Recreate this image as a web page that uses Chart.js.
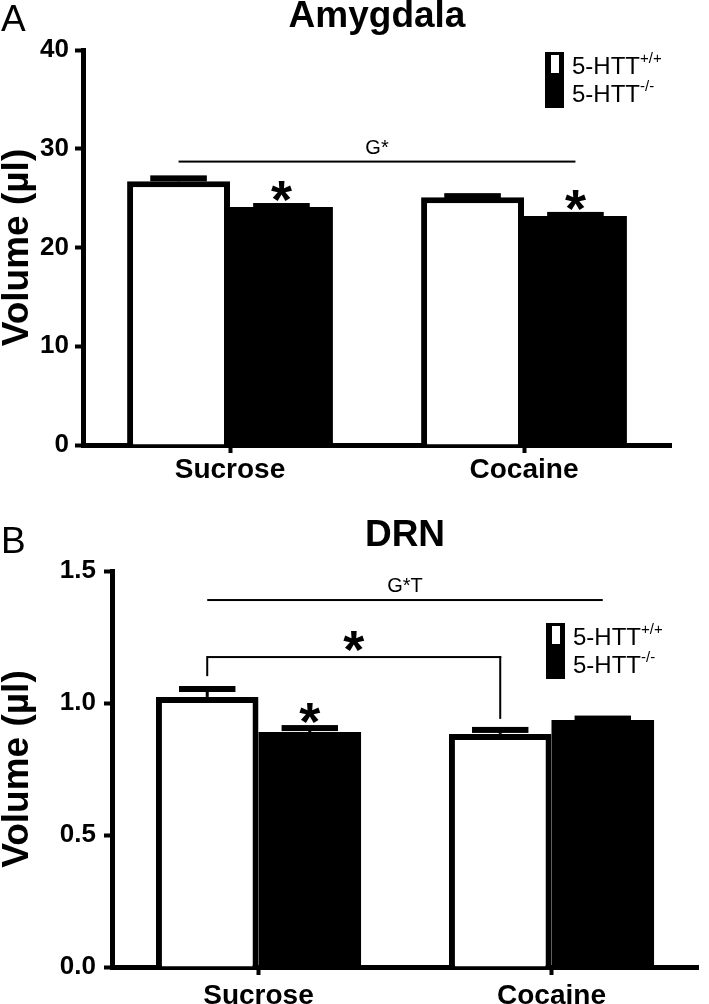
<!DOCTYPE html>
<html>
<head>
<meta charset="utf-8">
<script src="https://cdn.jsdelivr.net/npm/chart.js@4.4.1/dist/chart.umd.min.js"></script>
<style>
  body { margin: 0; background: #fff; }
  .panel { position: absolute; left: 0; width: 709px; }
  #wrapA { top: 0; height: 500px; }
  #wrapB { top: 500px; height: 504px; }
</style>
</head>
<body>
<div class="panel" id="wrapA"><canvas id="chartA"></canvas></div>
<div class="panel" id="wrapB"><canvas id="chartB"></canvas></div>
<script>
const categories = ['Sucrose', 'Cocaine'];
const legendWT = '5-HTT', supWT = '+/+';
const legendKO = '5-HTT', supKO = '-/-';

// Amygdala (µl)
const amyWT = [26.7, 25.1];
const amyWTsem = [0.3, 0.1];
const amyKO = [24.1, 23.2];
const amyKOsem = [0.1, 0.1];
const amyTicks = [0, 10, 20, 30, 40];

// DRN (µl)
const drnWT = [1.023, 0.883];
const drnWTsem = [0.03, 0.015];
const drnKO = [0.89, 0.936];
const drnKOsem = [0.015, 0.005];
const drnTicks = [0, 0.5, 1.0, 1.5];

const FONT = "'Liberation Sans', Arial, sans-serif";

// error bars: stem + thick cap, drawn from the dataset values
const errorBars = {
  id: 'errorBars',
  afterDatasetsDraw(chart) {
    const ctx = chart.ctx;
    const y = chart.scales.y;
    chart.data.datasets.forEach((ds, i) => {
      const meta = chart.getDatasetMeta(i);
      meta.data.forEach((bar, j) => {
        const top = y.getPixelForValue(ds.data[j] + ds.sem[j]);
        const capW = bar.width * 0.55;
        ctx.save();
        ctx.fillStyle = '#000';
        ctx.fillRect(bar.x - 1.5, top, 3, bar.y - top);
        ctx.fillRect(bar.x - capW / 2, top - 3, capW, 6);
        ctx.restore();
      });
    });
  }
};

function star(ctx, x, yc) {
  ctx.font = 'bold 54px ' + FONT;
  ctx.textAlign = 'center';
  ctx.textBaseline = 'alphabetic';
  ctx.fillText('*', x, yc + 30);
}

function drawLegend(ctx, x, y) {
  ctx.fillStyle = '#000';
  ctx.fillRect(x, y, 19, 56);
  ctx.fillStyle = '#fff';
  ctx.fillRect(x + 6, y + 3, 8, 18);
  ctx.fillStyle = '#000';
  ctx.textAlign = 'left';
  ctx.textBaseline = 'middle';
  const rows = [[legendWT, supWT, y + 15], [legendKO, supKO, y + 43]];
  rows.forEach(([t, s, ty]) => {
    ctx.font = '24px ' + FONT;
    ctx.fillText(t, x + 27, ty);
    const w = ctx.measureText(t).width;
    ctx.font = '15px ' + FONT;
    ctx.fillText(s, x + 27 + w, ty - 8);
  });
}

function makeChart(id, cfg) {
  const annot = {
    id: 'annot',
    afterDraw(chart) {
      const ctx = chart.ctx;
      const a = chart.chartArea;
      ctx.save();
      ctx.fillStyle = '#000';
      ctx.textAlign = 'center';
      ctx.textBaseline = 'middle';
      ctx.font = 'bold 37px ' + FONT;
      ctx.fillText(cfg.title, (a.left + a.right) / 2, cfg.titleY);
      ctx.textAlign = 'left';
      ctx.font = '37px ' + FONT;
      ctx.fillText(cfg.letter, 1, cfg.letterY);
      drawLegend(ctx, a.left + cfg.legendX, cfg.legendY);
      cfg.extras(chart, ctx);
      ctx.restore();
    }
  };

  return new Chart(document.getElementById(id), {
    type: 'bar',
    data: {
      labels: categories,
      datasets: [
        { data: cfg.wt, sem: cfg.wtSem, backgroundColor: '#fff', borderColor: '#000', borderWidth: 6,
          categoryPercentage: 0.7, barPercentage: 1 },
        { data: cfg.ko, sem: cfg.koSem, backgroundColor: '#000', borderWidth: 0,
          categoryPercentage: 0.7, barPercentage: 1 }
      ]
    },
    options: {
      responsive: true,
      maintainAspectRatio: false,
      animation: false,
      layout: { padding: { left: 0, top: cfg.padTop, right: cfg.padRight, bottom: 0 } },
      plugins: { legend: { display: false }, tooltip: { enabled: false } },
      scales: {
        x: {
          grid: { display: true, drawOnChartArea: false, drawTicks: true, offset: false,
                  tickLength: 8, tickWidth: 4, tickColor: '#000' },
          border: { display: true, width: 5, color: '#000' },
          ticks: { color: '#000', font: { family: FONT, size: 28, weight: 'bold' }, padding: cfg.xPad },
          afterFit: s => { s.height = cfg.xHeight; }
        },
        y: {
          min: 0,
          max: cfg.ticks[cfg.ticks.length - 1],
          afterBuildTicks: s => { s.ticks = cfg.ticks.map(v => ({ value: v })); },
          grid: { display: true, drawOnChartArea: false, drawTicks: true,
                  tickLength: 8, tickWidth: 4, tickColor: '#000' },
          border: { display: true, width: 5, color: '#000' },
          ticks: { color: '#000', font: { family: FONT, size: 26, weight: 'bold' }, padding: cfg.yPad,
                   callback: cfg.fmt },
          title: { display: true, text: 'Volume (\u00b5l)', color: '#000',
                   font: { family: FONT, size: 37, weight: 'bold' }, padding: { top: -4, bottom: 0 } },
          afterFit: s => { s.width = cfg.yWidth; }
        }
      }
    },
    plugins: [errorBars, annot]
  });
}

// Amygdala annotations
const amyGline = 28.7, amyStars = [26.0, 25.1];
// DRN annotations
const drnGline = 1.39, drnBracket = 1.174, drnBracketL = 1.098, drnBracketR = 0.936, drnBracketStar = 1.246;
const drnStar = 0.973;

makeChart('chartA', {
  title: 'Amygdala', titleY: 17, letter: 'A', letterY: 21,
  wt: amyWT, wtSem: amyWTsem, ko: amyKO, koSem: amyKOsem,
  ticks: amyTicks, fmt: v => String(v),
  padTop: 50, padRight: 38, xHeight: 55, yWidth: 83, xPad: 0, yPad: 6,
  legendX: 462, legendY: 52,
  extras(chart, ctx) {
    const y = chart.scales.y;
    const wt = chart.getDatasetMeta(0).data, ko = chart.getDatasetMeta(1).data;
    const gy = y.getPixelForValue(amyGline);
    ctx.fillRect(wt[0].x, gy - 1, ko[1].x - wt[0].x, 2);
    ctx.font = '20px ' + FONT;
    ctx.textAlign = 'center';
    ctx.textBaseline = 'alphabetic';
    ctx.fillText('G*', (wt[0].x + ko[1].x) / 2, gy - 8);
    ko.forEach((b, j) => star(ctx, b.x, y.getPixelForValue(amyStars[j])));
  }
});

makeChart('chartB', {
  title: 'DRN', titleY: 36, letter: 'B', letterY: 43,
  wt: drnWT, wtSem: drnWTsem, ko: drnKO, koSem: drnKOsem,
  ticks: drnTicks, fmt: v => v.toFixed(1),
  padTop: 71, padRight: 11, xHeight: 37, yWidth: 112, xPad: 4, yPad: 8,
  legendX: 434, legendY: 123,
  extras(chart, ctx) {
    const y = chart.scales.y;
    const wt = chart.getDatasetMeta(0).data, ko = chart.getDatasetMeta(1).data;
    const gy = y.getPixelForValue(drnGline);
    ctx.fillRect(wt[0].x, gy - 1, ko[1].x - wt[0].x, 2);
    ctx.font = '20px ' + FONT;
    ctx.textAlign = 'center';
    ctx.textBaseline = 'alphabetic';
    ctx.fillText('G*T', (wt[0].x + ko[1].x) / 2, gy - 8);
    const by = y.getPixelForValue(drnBracket);
    ctx.fillRect(wt[0].x, by - 1, wt[1].x - wt[0].x + 1, 2);
    ctx.fillRect(wt[0].x - 1, by - 1, 2, y.getPixelForValue(drnBracketL) - by);
    ctx.fillRect(wt[1].x - 1, by - 1, 2, y.getPixelForValue(drnBracketR) - by);
    star(ctx, (wt[0].x + wt[1].x) / 2, y.getPixelForValue(drnBracketStar));
    star(ctx, ko[0].x, y.getPixelForValue(drnStar));
  }
});
</script>
</body>
</html>
